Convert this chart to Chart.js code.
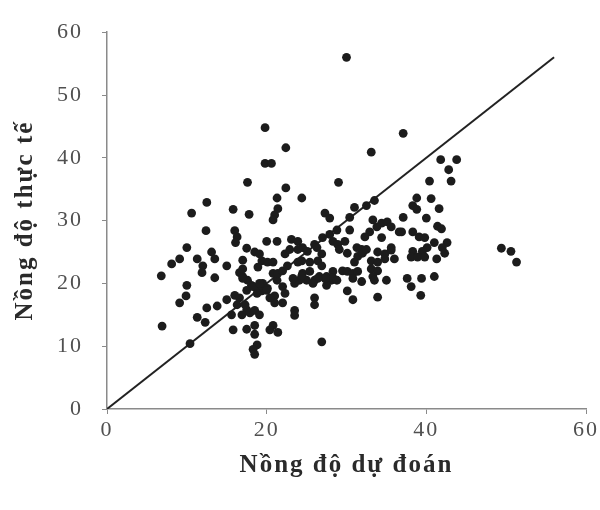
<!DOCTYPE html>
<html>
<head>
<meta charset="utf-8">
<script src="https://cdn.jsdelivr.net/npm/chart.js@4/dist/chart.umd.min.js"></script>
<style>
  html, body { margin: 0; padding: 0; background: #fff; }
  #wrap { width: 600px; height: 510px; }
</style>
</head>
<body>
<div id="wrap"><canvas id="scatterChart" width="600" height="510"></canvas></div>
<script>
const predicted = [
  6.8, 6.9, 8.1, 9.1, 9.1, 10.0, 10.0, 9.9, 10.4, 10.6, 11.3, 11.3, 12.0, 11.9, 12.3, 12.4, 12.5, 12.5,
  13.1, 13.5, 13.5, 13.8, 15.0, 15.0, 15.8, 16.0, 16.3, 16.1, 15.6, 15.8, 16.0, 16.6, 16.3, 16.9, 17.5, 17.5,
  17.0, 16.6, 17.0, 17.6, 17.8, 17.5, 18.5, 19.1, 19.4, 18.9, 17.6, 18.1, 18.8, 19.4, 19.4, 17.3, 17.9, 18.5,
  19.1, 18.5, 18.5, 18.8, 18.3, 18.5, 19.8, 19.8, 20.6, 21.0, 20.8, 21.3, 20.0, 21.3, 20.1, 20.8, 20.8, 21.3,
  19.5, 20.1, 21.0, 22.0, 22.3, 22.0, 21.0, 20.4, 20.8, 20.4, 21.4, 22.4, 22.4, 24.4, 21.4, 27.3, 23.1, 23.9,
  24.5, 26.0, 27.0, 27.9, 24.4, 25.4, 26.4, 26.9, 21.4, 22.0, 24.5, 25.4, 24.1, 23.5, 25.0, 26.0, 26.6, 27.5,
  28.1, 27.5, 26.0, 26.0, 23.5, 23.5, 26.9, 30.0, 29.0, 33.1, 37.1, 23.9, 25.1, 26.9, 28.3, 23.3, 27.9, 30.4,
  28.8, 30.4, 31.0, 32.5, 33.5, 33.3, 34.4, 35.1, 35.6, 33.8, 32.9, 36.6, 34.4, 32.3, 28.3, 28.9, 29.8, 31.9,
  31.4, 32.0, 32.5, 33.9, 34.8, 35.6, 30.1, 31.0, 33.1, 33.9, 34.8, 36.0, 29.5, 30.1, 30.8, 31.4, 33.1, 33.9,
  28.3, 28.8, 30.8, 31.9, 33.3, 33.5, 35.0, 30.1, 30.8, 33.9, 29.1, 31.3, 35.6, 41.8, 43.8, 42.8, 40.4, 43.1,
  38.8, 40.6, 38.3, 38.8, 41.6, 37.1, 40.0, 41.4, 41.9, 36.9, 38.3, 39.1, 39.8, 41.0, 42.6, 42.0, 40.1, 39.5,
  38.3, 38.1, 38.9, 39.8, 41.3, 42.3, 37.6, 38.1, 39.4, 41.0, 39.3, 49.4, 50.6, 51.3,
  26.3, 27.3, 26.4, 25.8, 24.4, 23.9, 22.6, 22.3, 22.9, 17.0, 17.5, 18.3, 18.8, 19.1, 20.0, 17.0
];
const measured = [
  21.2, 13.2, 23.1, 23.9, 16.9, 25.7, 19.7, 18.0, 10.4, 31.2, 23.9, 14.6, 22.8, 21.7, 13.8, 28.4, 32.9, 16.1,
  25.0, 23.9, 20.9, 16.4, 22.8, 17.4, 31.8, 28.4, 27.4, 26.5, 15.0, 12.6, 18.1, 17.7, 16.6, 15.0, 15.8, 12.7,
  23.7, 21.7, 21.1, 36.1, 31.0, 25.6, 25.0, 24.7, 23.6, 22.6, 20.5, 19.7, 19.2, 18.8, 19.7, 16.6, 15.3, 15.7,
  15.0, 13.3, 11.9, 10.2, 9.5, 8.7, 44.8, 39.1, 39.1, 30.9, 30.1, 33.6, 26.7, 26.7, 23.4, 23.4, 21.6, 20.5,
  20.0, 19.2, 18.0, 19.5, 18.4, 16.9, 16.9, 17.7, 13.3, 12.6, 12.2, 41.6, 35.2, 33.6, 31.9, 31.2, 27.0, 26.7,
  25.7, 26.2, 27.3, 27.8, 23.6, 23.4, 23.6, 22.8, 21.6, 22.0, 21.6, 21.9, 20.5, 20.0, 20.5, 20.5, 21.1, 21.1,
  20.5, 19.7, 17.7, 16.6, 15.7, 14.9, 10.7, 56.0, 36.1, 40.9, 43.9, 25.4, 25.1, 24.7, 21.9, 20.8, 30.4, 30.5,
  28.5, 28.5, 32.1, 32.4, 33.2, 30.1, 29.6, 29.8, 29.0, 29.0, 28.2, 28.2, 27.3, 27.4, 26.7, 26.2, 26.7, 25.4,
  24.3, 24.8, 25.4, 25.0, 24.7, 25.3, 24.8, 23.4, 23.6, 23.4, 23.9, 23.9, 22.0, 21.9, 21.6, 21.9, 22.3, 22.0,
  20.9, 20.5, 20.8, 20.3, 21.1, 20.5, 20.5, 18.8, 17.4, 17.8, 25.4, 25.7, 25.7, 39.7, 39.7, 38.1, 36.3, 36.3,
  33.6, 33.5, 32.4, 31.8, 31.9, 30.5, 30.4, 29.1, 28.7, 28.2, 28.2, 27.4, 27.3, 26.5, 26.5, 25.7, 25.7, 25.1,
  25.1, 24.2, 24.2, 24.2, 23.9, 24.8, 20.8, 19.5, 20.8, 21.1, 18.1, 25.6, 25.1, 23.4,
  25.7, 20.8, 20.8, 20.0, 21.2, 23.4, 22.8, 24.7, 25.4, 20.8, 18.9, 19.5, 18.4, 20.0, 18.9, 22.3
];
// 1:1 reference line
const lineX = [0, 56];
const lineY = [0, 56];

const xTicks = [0, 20, 40, 60];
const yTicks = [0, 10, 20, 30, 40, 50, 60];

const points = predicted.map((v, i) => ({ x: v, y: measured[i] }));
const refLine = lineX.map((v, i) => ({ x: v, y: lineY[i] }));

// wider glyph spacing, like the scanned original
const spacing = {
  id: 'spacing',
  beforeDraw(chart) { chart.ctx.letterSpacing = '2px'; }
};

const ctx = document.getElementById('scatterChart').getContext('2d');

new Chart(ctx, {
  type: 'scatter',
  data: {
    datasets: [
      {
        data: points,
        backgroundColor: '#1c1c1c',
        borderColor: '#1c1c1c',
        pointRadius: 4.4,
        pointBorderWidth: 0
      },
      {
        data: refLine,
        showLine: true,
        borderColor: '#222',
        borderWidth: 2,
        pointRadius: 0
      }
    ]
  },
  options: {
    responsive: false,
    animation: false,
    layout: { padding: { top: 22, right: 13, left: 0, bottom: 0 } },
    plugins: { legend: { display: false }, tooltip: { enabled: false } },
    scales: {
      x: {
        type: 'linear',
        min: 0,
        max: 60,
        afterBuildTicks(scale) { scale.ticks = xTicks.map(v => ({ value: v })); },
        afterFit(scale) { scale.height = 101; },
        border: { display: true, color: '#8a8a8a', width: 1.5 },
        grid: { drawOnChartArea: false, tickLength: 5, color: '#8a8a8a' },
        ticks: {
          padding: 3,
          color: '#505050',
          font: { family: '"Liberation Serif", "Times New Roman", serif', size: 22 }
        },
        title: {
          display: true,
          text: 'Nồng độ dự đoán',
          color: '#2a2a2a',
          padding: { top: 0, bottom: 29 },
          font: { family: '"Liberation Serif", "Times New Roman", serif', size: 25, weight: 'bold' }
        }
      },
      y: {
        type: 'linear',
        min: 0,
        max: 60,
        afterBuildTicks(scale) { scale.ticks = yTicks.map(v => ({ value: v })); },
        afterFit(scale) { scale.width = 107; },
        border: { display: true, color: '#8a8a8a', width: 1.5 },
        grid: { drawOnChartArea: false, tickLength: 5, color: '#8a8a8a' },
        ticks: {
          padding: 19,
          color: '#505050',
          font: { family: '"Liberation Serif", "Times New Roman", serif', size: 22 }
        },
        title: {
          display: true,
          text: 'Nồng độ thực tế',
          color: '#2a2a2a',
          padding: { top: 11, bottom: 0 },
          font: { family: '"Liberation Serif", "Times New Roman", serif', size: 25, weight: 'bold' }
        }
      }
    }
  },
  plugins: [spacing]
});
</script>
</body>
</html>
